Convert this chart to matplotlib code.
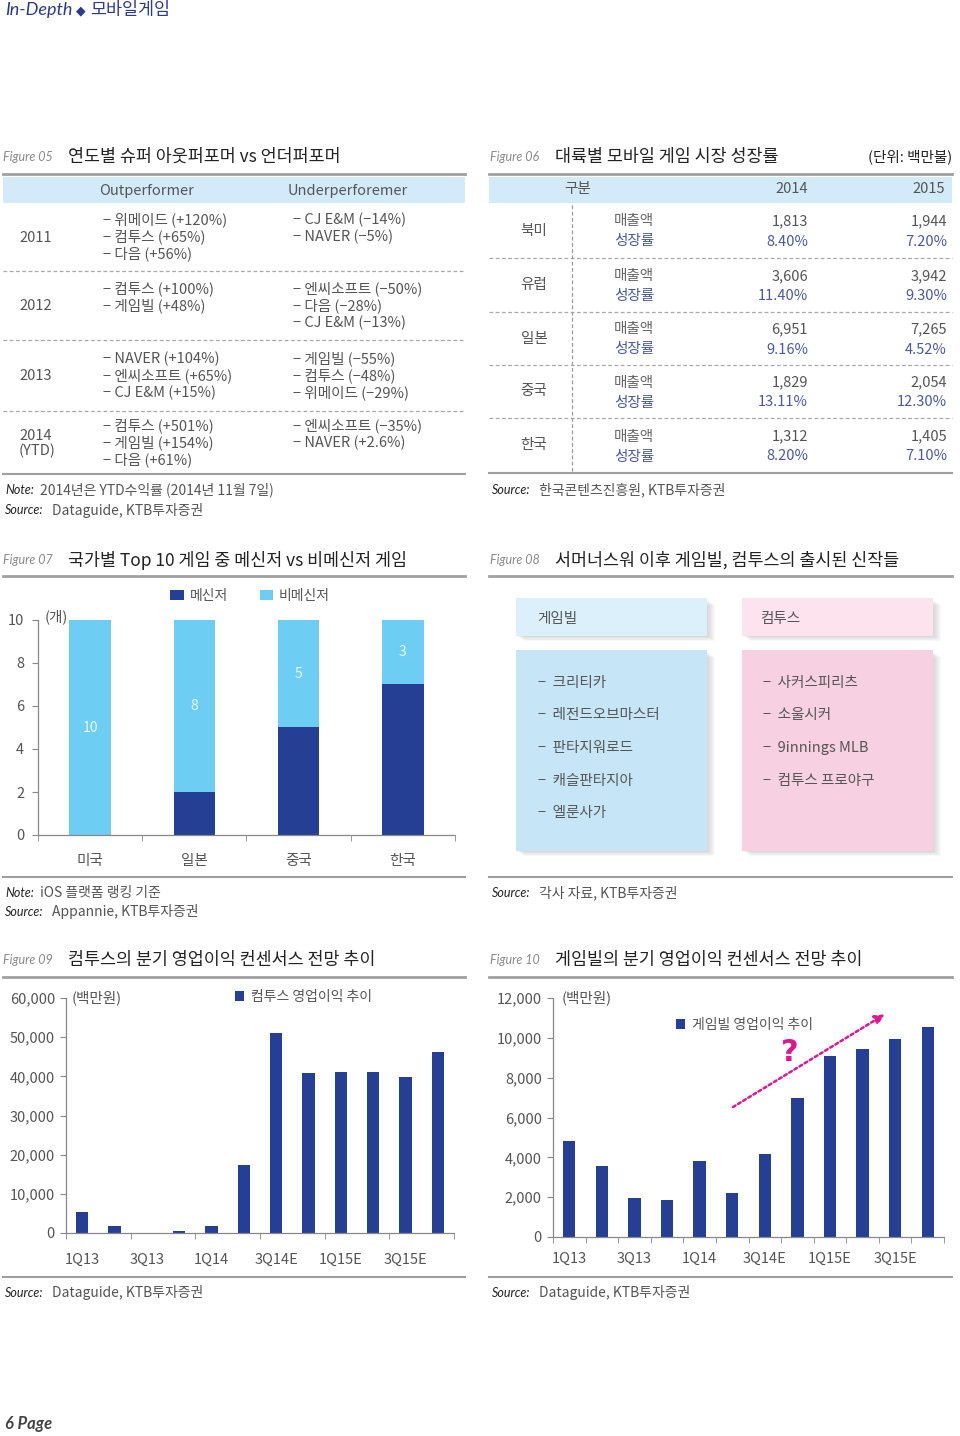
import matplotlib
matplotlib.use("Agg")
import matplotlib.pyplot as plt
from matplotlib.lines import Line2D
from matplotlib.patches import Rectangle

plt.rcParams['font.family'] = ['Noto Sans CJK KR', 'DejaVu Sans']

# ---------- data ----------
# Figure 05
years = ['2011', '2012', '2013', '2014\n(YTD)']
outperformers = [
    ['위메이드 (+120%)', '컴투스 (+65%)', '다음 (+56%)'],
    ['컴투스 (+100%)', '게임빌 (+48%)'],
    ['NAVER (+104%)', '엔씨소프트 (+65%)', 'CJ E&M (+15%)'],
    ['컴투스 (+501%)', '게임빌 (+154%)', '다음 (+61%)'],
]
underperformers = [
    ['CJ E&M (−14%)', 'NAVER (−5%)'],
    ['엔씨소프트 (−50%)', '다음 (−28%)', 'CJ E&M (−13%)'],
    ['게임빌 (−55%)', '컴투스 (−48%)', '위메이드 (−29%)'],
    ['엔씨소프트 (−35%)', 'NAVER (+2.6%)'],
]

# Figure 06
regions = ['북미', '유럽', '일본', '중국', '한국']
sales_2014 = [1813, 3606, 6951, 1829, 1312]
sales_2015 = [1944, 3942, 7265, 2054, 1405]
growth_2014 = [8.40, 11.40, 9.16, 13.11, 8.20]
growth_2015 = [7.20, 9.30, 4.52, 12.30, 7.10]

# Figure 07
countries = ['미국', '일본', '중국', '한국']
messenger = [0, 2, 5, 7]
non_messenger = [10, 8, 5, 3]

# Figure 08
gamevil_titles = ['크리티카', '레전드오브마스터', '판타지워로드', '캐슬판타지아', '엘룬사가']
com2us_titles = ['사커스피리츠', '소울시커', '9innings MLB', '컴투스 프로야구']

# Figure 09 / 10
quarters = ['1Q13', '2Q13', '3Q13', '4Q13', '1Q14', '2Q14',
            '3Q14E', '4Q14E', '1Q15E', '2Q15E', '3Q15E', '4Q15E']
com2us_op = [5300, 1900, 100, 500, 1900, 17400, 51100, 40900, 41100, 41100, 39800, 46200]
gamevil_op = [4830, 3560, 1970, 1860, 3800, 2220, 4160, 6960, 9080, 9450, 9920, 10530]

# ---------- style ----------
NAVY = '#243f94'
SKY = '#6dcdf2'
BAND = '#d3ebf8'
TXT = '#555555'
DARK = '#222222'
BLUE_TXT = '#4a5a9c'
GRAY_LINE = '#a0a0a0'
BODY = 10.5
W, H = 960, 1436

fig = plt.figure(figsize=(W / 100, H / 100), dpi=100)


def fx(x):
    return x / W


def fy(y):
    return 1 - y / H


def T(x, y, s, size=BODY, color=TXT, ha='left', va='center', **kw):
    fig.text(fx(x), fy(y), s, fontsize=size, color=color, ha=ha, va=va, **kw)


def hline(x0, x1, y, color=GRAY_LINE, lw=2, ls='-'):
    fig.add_artist(Line2D([fx(x0), fx(x1)], [fy(y), fy(y)], color=color,
                          lw=lw, ls=ls, transform=fig.transFigure))


def vline(x, y0, y1, color=GRAY_LINE, lw=1, ls='-'):
    fig.add_artist(Line2D([fx(x), fx(x)], [fy(y0), fy(y1)], color=color,
                          lw=lw, ls=ls, transform=fig.transFigure))


def rect(x0, y0, x1, y1, color, alpha=1.0, z=0):
    fig.add_artist(Rectangle((fx(x0), fy(y1)), fx(x1) - fx(x0), fy(y0) - fy(y1),
                             facecolor=color, edgecolor='none', alpha=alpha,
                             transform=fig.transFigure, zorder=z))


def title(x, y, num, s):
    T(x, y, 'Figure ' + num, size=9, color='#8a8a8a', style='italic', family=['Lato', 'DejaVu Sans'])
    T(x + 65, y, s, size=12.5, color=DARK)


def note(x, y, label, s):
    T(x, y, label, size=9, color=DARK, style='italic', family=['Lato', 'DejaVu Sans'])
    T(x + (35 if label == 'Note:' else 47), y, s, size=10, color=TXT)


def add_axes(l, t, r, b):
    return fig.add_axes([fx(l), fy(b), fx(r) - fx(l), fy(t) - fy(b)])


def style_axes(ax):
    for s in ['top', 'right']:
        ax.spines[s].set_visible(False)
    for s in ['left', 'bottom']:
        ax.spines[s].set_color('#888888')
        ax.spines[s].set_linewidth(0.9)


# ---------- page header / footer ----------
T(5, 10, 'In-Depth', size=13, color='#2b3a8c', style='italic', family=['Lato', 'DejaVu Sans'])
T(76, 11, '◆', size=9, color='#2b3a8c', family=['DejaVu Sans'])
T(90, 10, '모바일게임', size=12.5, color='#2b3a8c')
T(5, 1424, '6 Page', size=12, color='#444444', style='italic', weight='bold', family=['Lato', 'DejaVu Sans'])

# ---------- Figure 05 ----------
title(3, 157, '05', '연도별 슈퍼 아웃퍼포머 vs 언더퍼포머')
hline(3, 465, 174)
rect(3, 177, 465, 203, BAND)
T(147, 191, 'Outperformer', ha='center')
T(348, 191, 'Underperforemer', ha='center')
row_edges = [203, 271, 340, 411, 474]
for i, yr in enumerate(years):
    c = (row_edges[i] + row_edges[i + 1]) / 2
    T(19, c + 1, yr, linespacing=1.0)
    for j, s in enumerate(outperformers[i]):
        T(103, c - 17 + 17 * j, '− ' + s)
    for j, s in enumerate(underperformers[i]):
        T(293, c - 17 + 17 * j, '− ' + s)
    if i < len(years) - 1:
        hline(3, 465, row_edges[i + 1], color='#a8a8a8', lw=0.9, ls=(0, (3, 2)))
hline(3, 465, 474, lw=1.5)
note(5, 490, 'Note:', '2014년은 YTD수익률 (2014년 11월 7일)')
note(5, 510, 'Source:', 'Dataguide, KTB투자증권')

# ---------- Figure 06 ----------
title(490, 157, '06', '대륙별 모바일 게임 시장 성장률')
T(952, 157, '(단위: 백만불)', color=DARK, ha='right')
hline(489, 952, 174)
rect(489, 177, 952, 203, BAND)
T(578, 189, '구분', ha='center')
T(808, 189, '2014', ha='right')
T(945, 189, '2015', ha='right')
edges6 = [203, 258, 312, 365, 418, 473]
for i, reg in enumerate(regions):
    c = (edges6[i] + edges6[i + 1]) / 2
    T(534, c, reg, ha='center')
    T(614, c - 9, '매출액', color='#666666')
    T(614, c + 11, '성장률', color=BLUE_TXT)
    T(808, c - 9, f'{sales_2014[i]:,}', ha='right')
    T(947, c - 9, f'{sales_2015[i]:,}', ha='right')
    T(808, c + 11, f'{growth_2014[i]:.2f}%', ha='right', color=BLUE_TXT)
    T(947, c + 11, f'{growth_2015[i]:.2f}%', ha='right', color=BLUE_TXT)
    if i < len(regions) - 1:
        hline(489, 952, edges6[i + 1], color='#a8a8a8', lw=0.9, ls=(0, (3, 2)))
vline(572, 205, 471, color='#999999', lw=0.9, ls=(0, (3, 2)))
hline(489, 952, 473, lw=1.5)
note(492, 490, 'Source:', '한국콘텐츠진흥원, KTB투자증권')

# ---------- Figure 07 ----------
title(3, 560, '07', '국가별 Top 10 게임 중 메신저 vs 비메신저 게임')
hline(3, 465, 576)
ax7 = add_axes(38, 620, 455, 835)
b1 = ax7.bar(range(len(countries)), messenger, width=0.4, color=NAVY, label='메신저')
b2 = ax7.bar(range(len(countries)), non_messenger, width=0.4, bottom=messenger,
             color=SKY, label='비메신저')
ax7.bar_label(b2, labels=[str(v) for v in non_messenger], label_type='center',
              color='#e9f6fc', fontsize=10)
ax7.set_xlim(-0.5, 3.5)
ax7.set_ylim(0, 10)
ax7.set_yticks(range(0, 11, 2))
ax7.set_xticks(range(len(countries)))
ax7.set_xticklabels(countries)
ax7.set_xticks([-0.5, 0.5, 1.5, 2.5, 3.5], minor=True)
ax7.tick_params(axis='x', which='major', length=0, pad=14, labelsize=10.5, labelcolor=TXT)
ax7.tick_params(axis='x', which='minor', length=4, color='#888888')
ax7.tick_params(axis='y', length=4, color='#888888', labelsize=10.5, labelcolor=TXT, pad=6)
style_axes(ax7)
T(45, 617, '(개)')
fig.legend(handles=[b1, b2], loc='center', bbox_to_anchor=(fx(250), fy(596)), ncol=2,
           frameon=False, fontsize=10, handlelength=1.0, handleheight=0.7,
           columnspacing=2.3, handletextpad=0.4, labelcolor=TXT)
hline(3, 465, 877, lw=1.5)
note(5, 893, 'Note:', 'iOS 플랫폼 랭킹 기준')
note(5, 912, 'Source:', 'Appannie, KTB투자증권')

# ---------- Figure 08 ----------
title(490, 560, '08', '서머너스워 이후 게임빌, 컴투스의 출시된 신작들')
hline(489, 952, 576)
for (x0, x1, head, body) in [(516, 707, '#dcf0fb', '#c6e6f7'),
                             (742, 933, '#fce3ee', '#f7d0e1')]:
    for k in range(1, 9):
        rect(x0 + k, 600 + k * 0.6, x1 + k, 636 + k * 0.6, '#9a9a9a', alpha=0.05, z=0)
        rect(x0 + k, 652 + k * 0.6, x1 + k, 851 + k * 0.6, '#9a9a9a', alpha=0.05, z=0)
    rect(x0, 598, x1, 636, head, z=1)
    rect(x0, 650, x1, 851, body, z=1)
T(537, 619, '게임빌', zorder=3)
T(761, 619, '컴투스', zorder=3)
for j, s in enumerate(gamevil_titles):
    T(538, 683 + 32.5 * j, '−  ' + s, zorder=3)
for j, s in enumerate(com2us_titles):
    T(763, 683 + 32.5 * j, '−  ' + s, zorder=3)
hline(489, 952, 877, lw=1.5)
note(492, 893, 'Source:', '각사 자료, KTB투자증권')


# ---------- Figure 09 / 10 ----------
def quarter_chart(l, t, r, b, values, ymax, step, legend_label, legend_xy, unit_x, pad):
    ax = add_axes(l, t, r, b)
    bars = ax.bar(range(len(quarters)), values, width=0.38, color=NAVY, label=legend_label)
    ax.set_xlim(-0.5, len(quarters) - 0.5)
    ax.set_ylim(0, ymax)
    ax.set_yticks(range(0, ymax + 1, step))
    ax.set_yticklabels([f'{v:,}' for v in range(0, ymax + 1, step)])
    ax.set_xticks(range(0, len(quarters), 2))
    ax.set_xticklabels(quarters[::2])
    ax.tick_params(axis='x', which='major', length=0, pad=pad, labelsize=10.5, labelcolor=TXT)
    ax.tick_params(axis='y', length=4, color='#888888', labelsize=10.5, labelcolor=TXT, pad=4)
    style_axes(ax)
    T(unit_x, t, '(백만원)')
    fig.legend(handles=[bars], loc='center left', bbox_to_anchor=(fx(legend_xy[0]), fy(legend_xy[1])),
               frameon=False, fontsize=10, handlelength=0.7, handleheight=0.7,
               handletextpad=0.5, labelcolor=TXT)
    return ax


title(3, 960, '09', '컴투스의 분기 영업이익 컨센서스 전망 추이')
hline(3, 465, 977)
ax9 = quarter_chart(66, 998, 454, 1233, com2us_op, 60000, 10000,
                    '컴투스 영업이익 추이', (222, 997), 72, 14)
ax9.set_xticks([k - 0.5 for k in range(0, 13, 2)], minor=True)
ax9.tick_params(axis='x', which='minor', length=4, color='#888888')
hline(3, 465, 1277, lw=1.5)
note(5, 1293, 'Source:', 'Dataguide, KTB투자증권')

title(490, 960, '10', '게임빌의 분기 영업이익 컨센서스 전망 추이')
hline(489, 952, 977)
ax10 = quarter_chart(553, 998, 944, 1237, gamevil_op, 12000, 2000,
                     '게임빌 영업이익 추이', (663, 1025), 562, 11)
ax10.set_xticks([k - 0.5 for k in range(0, 13)], minor=True)
ax10.tick_params(axis='x', which='minor', length=4, color='#888888')
ax10.annotate('', xy=(9.75, 11250), xytext=(4.95, 6450), annotation_clip=False,
              arrowprops=dict(arrowstyle='-|>', color='#e0168c', lw=1.8,
                              linestyle=(0, (1.2, 1.2)), mutation_scale=14))
ax10.text(6.77, 9250, '?', color='#e0168c', fontsize=22, weight='bold',
          ha='center', va='center', family=['DejaVu Sans'])
hline(489, 952, 1277, lw=1.5)
note(492, 1293, 'Source:', 'Dataguide, KTB투자증권')

fig.savefig('out.png', dpi=100, facecolor='white')
